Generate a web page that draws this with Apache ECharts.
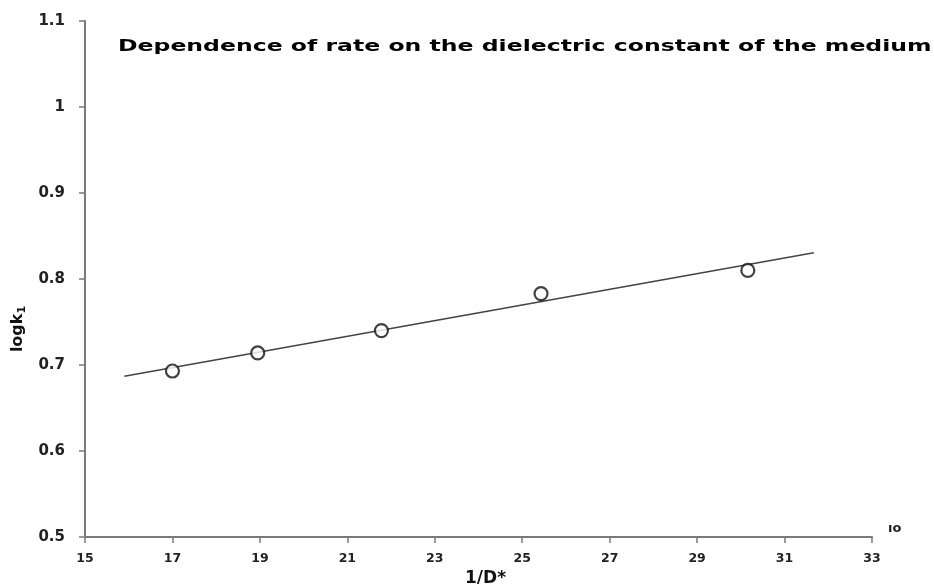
<!DOCTYPE html>
<html><head><meta charset="utf-8">
<script src="https://cdn.jsdelivr.net/npm/echarts@6/dist/echarts.min.js"></script>
<style>html,body{margin:0;padding:0;background:#fff}#c{width:934px;height:584px}</style>
</head><body><div id="c"></div>
<script>
const pointX = [17.0, 18.95, 21.78, 25.43, 30.16];
const pointY = [0.693, 0.714, 0.740, 0.783, 0.810];
const fitX = [15.9, 31.67];
const fitY = [0.687, 0.8305];
const xTicks = [15, 17, 19, 21, 23, 25, 27, 29, 31, 33];
const yTicks = [0.5, 0.6, 0.7, 0.8, 0.9, 1, 1.1];
const titleText = 'Dependence of rate on the dielectric constant of the medium';

const chart = echarts.init(document.getElementById('c'));
chart.setOption({
  animation: false,
  grid: {left: 85, right: 62, top: 21, bottom: 47, containLabel: false, outerBoundsMode: 'none'},
  xAxis: {
    type: 'value', min: xTicks[0], max: xTicks[xTicks.length-1], interval: 2,
    name: '1/D*', nameLocation: 'middle', nameGap: 26,
    nameTextStyle: {fontFamily: 'DejaVu Sans', fontWeight: 'bold', fontSize: 17, color: '#111', padding: [0, 0, 0, 14]},
    axisLine: {lineStyle: {color: '#7a7a7a', width: 2}},
    axisTick: {show: true, length: 6, lineStyle: {color: '#7a7a7a', width: 1.5}},
    axisLabel: {fontFamily: 'DejaVu Sans', fontWeight: 'bold', fontSize: 12.5, color: '#222', margin: 15},
    splitLine: {show: false}
  },
  yAxis: {
    type: 'value', min: yTicks[0], max: yTicks[yTicks.length-1], interval: 0.1,
    name: '{a|logk}{b|1}', nameLocation: 'middle', nameGap: 56, nameRotate: 90,
    nameTextStyle: {padding: [0, 100, 0, 0], rich: {
      a: {fontFamily: 'DejaVu Sans', fontWeight: 'bold', fontSize: 16, color: '#111'},
      b: {fontFamily: 'DejaVu Sans', fontWeight: 'bold', fontSize: 11, color: '#111', verticalAlign: 'bottom', padding: [8,0,0,0]}
    }},
    axisLine: {show: true, lineStyle: {color: '#7a7a7a', width: 2}},
    axisTick: {show: true, length: 6, lineStyle: {color: '#7a7a7a', width: 1.5}},
    axisLabel: {fontFamily: 'DejaVu Sans', fontWeight: 'bold', fontSize: 15, color: '#222', margin: 20,
      formatter: v => String(Math.round(v*10)/10)},
    splitLine: {show: false}
  },
  graphic: [
    {type: 'text', left: 118, top: 40, scaleX: 1.57,
     style: {text: titleText, fontFamily: 'DejaVu Sans', fontWeight: 'bold', fontSize: 15, fill: '#000'}},
    {type: 'text', left: 888, top: 522,
     style: {text: 'ıo', fontFamily: 'DejaVu Sans', fontWeight: 'bold', fontSize: 13, fill: '#222'}}
  ],
  series: [
    {type: 'line', data: fitX.map((x,i)=>[x, fitY[i]]), symbol: 'none',
     lineStyle: {color: '#444', width: 1.5}, z: 1},
    {type: 'scatter', data: pointX.map((x,i)=>[x, pointY[i]]), symbol: 'circle', symbolSize: 13,
     itemStyle: {color: '#fff', borderColor: '#111', borderWidth: 2.2}, z: 3}
  ]
});
</script></body></html>
